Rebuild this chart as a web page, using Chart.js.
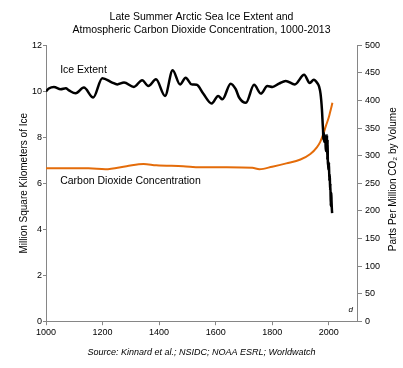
<!DOCTYPE html>
<html>
<head>
<meta charset="utf-8">
<script src="https://cdn.jsdelivr.net/npm/chart.js@4"></script>
<style>
  body { margin: 0; background: #fff; }
  canvas { display: block; }
</style>
</head>
<body>
<canvas id="chart" width="403" height="368"></canvas>
<script>
// late summer arctic sea ice extent, million km2
const iceYears = [1000, 1010, 1028, 1052, 1070, 1081, 1105, 1134, 1167, 1199, 1234, 1252, 1276, 1311, 1340,
    1362, 1389, 1421, 1448, 1474, 1494, 1515, 1533, 1556, 1586, 1609, 1624, 1653, 1671, 1683, 1707,
    1736, 1760, 1783, 1801, 1824, 1848, 1880, 1913, 1933, 1947, 1960, 1966, 1971, 1976,
    1979, 1980, 1981, 1982, 1983, 1984, 1985, 1986, 1987, 1988, 1989, 1990, 1991, 1992, 1993, 1994,
    1995, 1996, 1997, 1998, 1999, 2000, 2001, 2002, 2003, 2004, 2005, 2006, 2007, 2008, 2009, 2010,
    2011, 2012];
const iceValues = [10.0, 10.12, 10.19, 10.09, 10.13, 10.04, 9.91, 10.16, 9.73, 10.57, 10.38, 10.3, 10.38, 10.19, 10.48,
    10.23, 10.52, 9.8, 10.91, 10.3, 10.59, 10.3, 10.28, 9.9, 9.47, 9.8, 9.65, 10.33, 10.09, 9.73, 9.5,
    10.28, 9.9, 10.23, 10.19, 10.33, 10.45, 10.3, 10.72, 10.36, 10.5, 10.35, 10.2, 9.9, 9.2,
    8.5, 8.3, 7.9, 8.2, 8.1, 7.8, 7.9, 8.1, 7.8, 8.0, 7.6, 7.4, 7.6, 8.0, 7.5, 8.1,
    7.0, 7.9, 6.9, 6.8, 6.6, 6.7, 6.9, 6.1, 6.4, 6.2, 5.7, 6.0, 5.0, 5.3, 5.6, 5.2,
    4.9, 4.7];

// atmospheric co2, ppm
const co2Years = [1000, 1150, 1210, 1285, 1345, 1390, 1485, 1545, 1640, 1730, 1755, 1800, 1850, 1900, 1935,
    1958, 1970, 1980, 1990, 2000, 2005, 2010, 2013];
const co2Values = [277, 277, 275.5, 281, 285, 282.5, 281, 279, 279, 278, 275.5, 280, 286, 293, 303,
    315, 325, 338, 354, 369, 379, 389, 396];

const yearTicks = [1000, 1200, 1400, 1600, 1800, 2000];

const FONT = "'Liberation Sans', Arial, sans-serif";
const AXIS_GREY = '#868686';

const toPoints = (xs, ys) => xs.map((x, i) => ({ x, y: ys[i] }));

// labels inside the plot + the right axis title (reads bottom to top)
const extraText = {
    id: 'extraText',
    afterDraw(chart) {
        const { ctx, scales: { x, y }, chartArea } = chart;
        ctx.save();
        ctx.fillStyle = '#000';
        ctx.textBaseline = 'middle';
        ctx.textAlign = 'left';
        ctx.font = `10.5px ${FONT}`;
        ctx.fillText('Ice Extent', x.getPixelForValue(1050), y.getPixelForValue(10.9));
        ctx.fillText('Carbon Dioxide Concentration', x.getPixelForValue(1050), y.getPixelForValue(6.1));
        ctx.font = `italic 8px ${FONT}`;
        ctx.fillText('d', x.getPixelForValue(2070), y.getPixelForValue(0.5));

        ctx.font = `10px ${FONT}`;
        ctx.textAlign = 'center';
        ctx.translate(393, (chartArea.top + chartArea.bottom) / 2 - 4);
        ctx.rotate(-Math.PI / 2);
        ctx.fillText('Parts Per Million CO\u2082 by Volume', 0, 0);
        ctx.restore();
    }
};

new Chart(document.getElementById('chart'), {
    type: 'line',
    data: {
        datasets: [{
            label: 'Ice Extent',
            data: toPoints(iceYears, iceValues),
            yAxisID: 'y',
            borderColor: '#000',
            borderWidth: 2.5,
            pointRadius: 0,
            cubicInterpolationMode: 'monotone'
        }, {
            label: 'Carbon Dioxide Concentration',
            data: toPoints(co2Years, co2Values),
            yAxisID: 'y1',
            borderColor: '#E46C0A',
            borderWidth: 2,
            pointRadius: 0,
            cubicInterpolationMode: 'monotone'
        }]
    },
    options: {
        responsive: false,
        animation: false,
        layout: { padding: 0 },
        plugins: {
            legend: { display: false },
            tooltip: { enabled: false },
            title: {
                display: true,
                text: ['Late Summer Arctic Sea Ice Extent and', 'Atmospheric Carbon Dioxide Concentration, 1000-2013'],
                color: '#000',
                font: { family: FONT, size: 10.5, weight: 'normal', lineHeight: 1.3 },
                padding: { top: 10, bottom: 8 }
            },
            subtitle: {
                display: true,
                position: 'bottom',
                text: 'Source: Kinnard et al.; NSIDC; NOAA ESRL; Worldwatch',
                color: '#000',
                font: { family: FONT, size: 9, style: 'italic', lineHeight: 1.2 },
                padding: { top: 4, bottom: 10 }
            }
        },
        scales: {
            x: {
                type: 'linear',
                min: 1000, max: 2100,
                afterBuildTicks: s => { s.ticks = yearTicks.map(v => ({ value: v })); },
                afterFit: s => { s.height = 22; },
                ticks: { color: '#000', padding: 2, maxRotation: 0, font: { family: FONT, size: 9 }, callback: v => String(v) },
                grid: { drawOnChartArea: false, tickLength: 4, color: AXIS_GREY },
                border: { color: AXIS_GREY }
            },
            y: {
                position: 'left',
                min: 0, max: 12,
                afterFit: s => { s.width = 46; },
                ticks: { stepSize: 2, color: '#000', padding: 1, font: { family: FONT, size: 9 }, callback: v => String(v) },
                grid: { drawOnChartArea: false, tickLength: 3, color: AXIS_GREY },
                border: { color: AXIS_GREY },
                title: {
                    display: true,
                    text: 'Million Square Kilometers of Ice',
                    color: '#000',
                    font: { family: FONT, size: 10, lineHeight: 1.2 },
                    padding: { top: 18, bottom: 0 }
                }
            },
            y1: {
                position: 'right',
                min: 0, max: 500,
                afterFit: s => { s.width = 46; },
                ticks: { stepSize: 50, color: '#000', padding: 3, font: { family: FONT, size: 9 }, callback: v => String(v) },
                grid: { drawOnChartArea: false, tickLength: 5, color: AXIS_GREY },
                border: { color: AXIS_GREY }
            }
        }
    },
    plugins: [extraText]
});
</script>
</body>
</html>
